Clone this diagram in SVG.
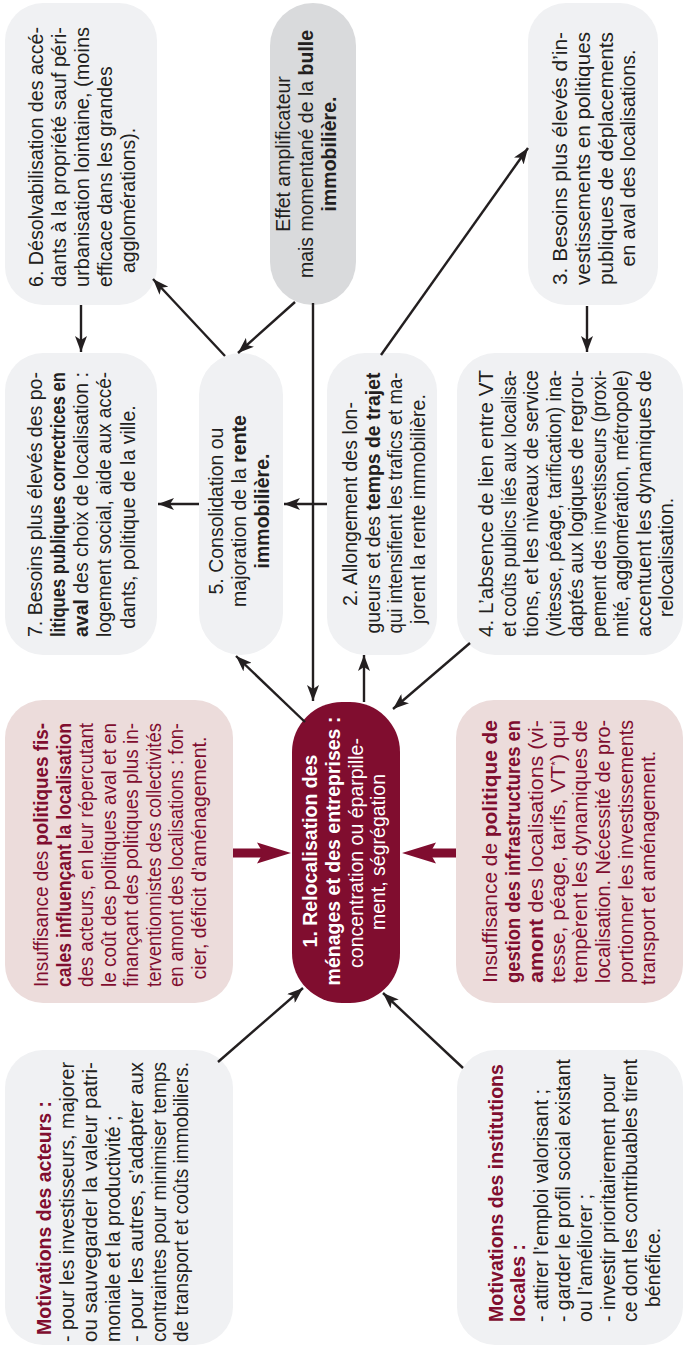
<svg xmlns="http://www.w3.org/2000/svg" width="684" height="1349" viewBox="0 0 684 1349">
<defs>
<style>
.box{fill:#f0f1f3}
.grey{fill:#d9dadc}
.pink{fill:#ecdcdb}
.dark{fill:#800d2f}
text{font-family:"Liberation Sans",Arial,sans-serif;font-size:19.5px;fill:#231f20}
.b{font-weight:bold}
.m{fill:#800d2f}
.w{fill:#ffffff}
.c{stroke:#231f20;stroke-width:2.4;fill:none;marker-end:url(#ah)}
.ma{fill:#800d2f}
</style>
<marker id="ah" markerUnits="userSpaceOnUse" markerWidth="18" markerHeight="12" refX="16" refY="6" orient="auto">
<path d="M0,0 L16,6 L0,12 L4,6 Z" fill="#231f20"/>
</marker>
</defs>
<rect width="684" height="1349" fill="#ffffff"/>
<g transform="matrix(0,-1,1,0,0,1349)">

<g id="n6">
<rect class="box" x="1044" y="5" width="302" height="152" rx="38"/>
<text x="1062" y="43" textLength="260" lengthAdjust="spacingAndGlyphs">6. Désolvabilisation des accé-</text>
<text x="1062" y="66" textLength="260" lengthAdjust="spacingAndGlyphs">dants à la propriété sauf péri-</text>
<text x="1062" y="89" textLength="260" lengthAdjust="spacingAndGlyphs">urbanisation lointaine, (moins</text>
<text x="1062" y="112">efficace dans les grandes</text>
<text x="1076" y="135">agglomérations).</text>
</g>

<g id="effet">
<rect class="grey" x="1044" y="270" width="302" height="86" rx="43"/>
<text x="1195" y="290" text-anchor="middle">Effet amplificateur</text>
<text x="1195" y="313" text-anchor="middle">mais momentané de la <tspan class="b">bulle</tspan></text>
<text x="1195" y="336" text-anchor="middle" class="b">immobilière.</text>
</g>

<g id="n3">
<rect class="box" x="1044" y="528" width="302" height="130" rx="38"/>
<text x="1064" y="567" textLength="253" lengthAdjust="spacingAndGlyphs">3. Besoins plus élevés d’in-</text>
<text x="1064" y="590" textLength="253" lengthAdjust="spacingAndGlyphs">vestissements en politiques</text>
<text x="1064" y="613" textLength="253" lengthAdjust="spacingAndGlyphs">publiques de déplacements</text>
<text x="1191" y="635" text-anchor="middle">en aval des localisations.</text>
</g>

<g id="n7">
<rect class="box" x="694" y="5" width="302" height="152" rx="38"/>
<text x="712" y="42" textLength="265" lengthAdjust="spacingAndGlyphs">7. Besoins plus élevés des po-</text>
<text x="712" y="65" textLength="265" lengthAdjust="spacingAndGlyphs" class="b">litiques publiques correctrices en</text>
<text x="712" y="88" textLength="265" lengthAdjust="spacingAndGlyphs"><tspan class="b">aval</tspan> des choix de localisation :</text>
<text x="712" y="111" textLength="265" lengthAdjust="spacingAndGlyphs">logement social, aide aux accé-</text>
<text x="832" y="135" text-anchor="middle">dants, politique de la ville.</text>
</g>

<g id="n5">
<rect class="box" x="694" y="199" width="302" height="84" rx="42"/>
<text x="838" y="223" text-anchor="middle">5. Consolidation ou</text>
<text x="838" y="246" text-anchor="middle">majoration de la <tspan class="b">rente</tspan></text>
<text x="838" y="269" text-anchor="middle" class="b">immobilière.</text>
</g>

<g id="n2">
<rect class="box" x="694" y="327" width="302" height="110" rx="38"/>
<text x="845" y="357" text-anchor="middle">2. Allongement des lon-</text>
<text x="846" y="379.5" text-anchor="middle" textLength="261" lengthAdjust="spacingAndGlyphs">gueurs et des <tspan class="b">temps de trajet</tspan></text>
<text x="846" y="402" text-anchor="middle" textLength="261" lengthAdjust="spacingAndGlyphs">qui intensifient les trafics et ma-</text>
<text x="840" y="424.5" text-anchor="middle">jorent la rente immobilière.</text>
</g>

<g id="n4">
<rect class="box" x="694" y="457" width="302" height="226" rx="38"/>
<text x="712" y="493" textLength="267" lengthAdjust="spacingAndGlyphs">4. L’absence de lien entre VT</text>
<text x="712" y="515.5" textLength="267" lengthAdjust="spacingAndGlyphs">et coûts publics liés aux localisa-</text>
<text x="712" y="538" textLength="267" lengthAdjust="spacingAndGlyphs">tions, et les niveaux de service</text>
<text x="712" y="560.5" textLength="267" lengthAdjust="spacingAndGlyphs">(vitesse, péage, tarification) ina-</text>
<text x="712" y="583" textLength="267" lengthAdjust="spacingAndGlyphs">daptés aux logiques de regrou-</text>
<text x="712" y="605.5" textLength="267" lengthAdjust="spacingAndGlyphs">pement des investisseurs (proxi-</text>
<text x="712" y="628" textLength="267" lengthAdjust="spacingAndGlyphs">mité, agglomération, métropole)</text>
<text x="712" y="650.5" textLength="267" lengthAdjust="spacingAndGlyphs">accentuent les dynamiques de</text>
<text x="732" y="673">relocalisation.</text>
</g>

<g id="pinkleft">
<rect class="pink" x="346" y="5" width="303" height="228" rx="38"/>
<text class="m" x="362" y="48" textLength="264" lengthAdjust="spacingAndGlyphs">Insuffisance des <tspan class="b">politiques fis-</tspan></text>
<text class="m b" x="362" y="70.5" textLength="264" lengthAdjust="spacingAndGlyphs">cales influençant la localisation</text>
<text class="m" x="362" y="93" textLength="264" lengthAdjust="spacingAndGlyphs">des acteurs, en leur répercutant</text>
<text class="m" x="362" y="115.5" textLength="264" lengthAdjust="spacingAndGlyphs">le coût des politiques aval et en</text>
<text class="m" x="362" y="138" textLength="264" lengthAdjust="spacingAndGlyphs">finançant des politiques plus in-</text>
<text class="m" x="362" y="160.5" textLength="264" lengthAdjust="spacingAndGlyphs">terventionnistes des collectivités</text>
<text class="m" x="362" y="183" textLength="264" lengthAdjust="spacingAndGlyphs">en amont des localisations : fon-</text>
<text class="m" x="491" y="205.5" text-anchor="middle">cier, déficit d’aménagement.</text>
</g>

<g id="center">
<rect class="dark" x="346" y="292" width="301" height="108" rx="50"/>
<text class="w b" x="498" y="317" text-anchor="middle">1. Relocalisation des</text>
<text class="w b" x="498" y="340" text-anchor="middle">ménages et des entreprises :</text>
<text class="w" x="496" y="363" text-anchor="middle">concentration ou éparpille-</text>
<text class="w" x="497" y="385" text-anchor="middle">ment, ségrégation</text>
</g>

<g id="pinkright">
<rect class="pink" x="346" y="456" width="303" height="227" rx="38"/>
<text class="m" x="366" y="497" textLength="263" lengthAdjust="spacingAndGlyphs">Insuffisance de <tspan class="b">politique de</tspan></text>
<text class="m b" x="366" y="520" textLength="263" lengthAdjust="spacingAndGlyphs">gestion des infrastructures en</text>
<text class="m" x="366" y="543" textLength="263" lengthAdjust="spacingAndGlyphs"><tspan class="b">amont</tspan> des localisations (vi-</text>
<text class="m" x="366" y="565" textLength="263" lengthAdjust="spacingAndGlyphs">tesse, péage, tarifs, VT<tspan font-size="11" baseline-shift="super">*</tspan>) qui</text>
<text class="m" x="366" y="587" textLength="263" lengthAdjust="spacingAndGlyphs">tempèrent les dynamiques de</text>
<text class="m" x="366" y="610" textLength="263" lengthAdjust="spacingAndGlyphs">localisation. Nécessité de pro-</text>
<text class="m" x="366" y="633" textLength="263" lengthAdjust="spacingAndGlyphs">portionner les investissements</text>
<text class="m" x="364" y="655">transport et aménagement.</text>
</g>

<g id="acteurs">
<rect class="box" x="4" y="5" width="295" height="228" rx="38"/>
<text class="m b" x="14" y="51">Motivations des acteurs :</text>
<text x="7" y="74" textLength="280" lengthAdjust="spacingAndGlyphs">- pour les investisseurs, majorer</text>
<text x="7" y="97" textLength="280" lengthAdjust="spacingAndGlyphs">ou sauvegarder la valeur patri-</text>
<text x="7" y="120">moniale et la productivité ;</text>
<text x="7" y="143" textLength="280" lengthAdjust="spacingAndGlyphs">- pour les autres, s’adapter aux</text>
<text x="7" y="165.5" textLength="280" lengthAdjust="spacingAndGlyphs">contraintes pour minimiser temps</text>
<text x="7" y="188" textLength="280" lengthAdjust="spacingAndGlyphs">de transport et coûts immobiliers.</text>
</g>

<g id="institutions">
<rect class="box" x="4" y="457" width="295" height="226" rx="38"/>
<text class="m b" x="27" y="503">Motivations des institutions</text>
<text class="m b" x="27" y="525">locales :</text>
<text x="27" y="548">- attirer l’emploi valorisant ;</text>
<text x="27" y="570" textLength="263" lengthAdjust="spacingAndGlyphs">- garder le profil social existant</text>
<text x="27" y="592">ou l’améliorer ;</text>
<text x="27" y="615">- investir prioritairement pour</text>
<text x="27" y="637" textLength="263" lengthAdjust="spacingAndGlyphs">ce dont les contribuables tirent</text>
<text x="42" y="660">bénéfice.</text>
</g>

<g id="connectors">
<line class="c" x1="1044" y1="81" x2="997" y2="81"/>
<line class="c" x1="993" y1="225" x2="1070" y2="153"/>
<line class="c" x1="1047" y1="295" x2="996" y2="238"/>
<line class="c" x1="1046" y1="313" x2="648" y2="313"/>
<line class="c" x1="994" y1="381" x2="1201" y2="528"/>
<line class="c" x1="1043" y1="587" x2="997" y2="587"/>
<line class="c" x1="845" y1="199" x2="845" y2="158"/>
<line class="c" x1="845" y1="327" x2="845" y2="284"/>
<line class="c" x1="627" y1="305" x2="693" y2="236"/>
<line class="c" x1="647" y1="364" x2="694" y2="364"/>
<line class="c" x1="706" y1="470" x2="640" y2="393"/>
<line class="c" x1="287" y1="218" x2="361" y2="303"/>
<line class="c" x1="281" y1="463" x2="356" y2="383"/>
<rect class="ma" x="491.5" y="233" width="9" height="30"/>
<polygon class="ma" points="496,291 506.5,257 496,263 485.5,257"/>
<rect class="ma" x="491.5" y="427" width="9" height="29"/>
<polygon class="ma" points="496,402 506.5,436 496,430 485.5,436"/>
</g>

</g>
</svg>
